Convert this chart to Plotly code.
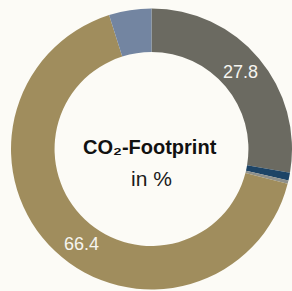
import plotly.graph_objects as go

categories = ["Segment A", "Segment B", "Segment C", "Segment D", "Segment E"]
values = [27.8, 0.9, 0.4, 66.4, 4.9]
colors = ["#6b6a61", "#1d4466", "#8e908b", "#a08d5d", "#7385a1"]
shown_labels = {0: "27.8", 3: "66.4"}
center_title = "CO₂-Footprint"
center_sub = "in %"

W, H = 292, 291
bg = "#fcfbf6"

fig = go.Figure(go.Pie(
    labels=categories,
    values=values,
    marker=dict(colors=colors, line=dict(width=0)),
    hole=0.69,
    sort=False,
    direction="clockwise",
    rotation=0,
    textinfo="none",
    hoverinfo="label+value",
    showlegend=False,
    domain=dict(x=[11 / W, 1.0], y=[0.0, 284 / H]),
))

label_pos = {0: (240, 72), 3: (81, 244)}
font_family = "Liberation Sans, Arial, sans-serif"
annotations = []
for i, txt in shown_labels.items():
    px, py = label_pos[i]
    annotations.append(dict(
        x=px / W, y=1 - py / H, xref="paper", yref="paper",
        xanchor="center", yanchor="middle",
        text=txt, showarrow=False,
        font=dict(family=font_family, size=18, color="#f6f5f0"),
    ))
annotations.append(dict(
    x=150 / W, y=1 - 147 / H, xref="paper", yref="paper",
    xanchor="center", yanchor="middle",
    text="<b>" + center_title + "</b>", showarrow=False,
    font=dict(family=font_family, size=20, color="#111111"),
))
annotations.append(dict(
    x=151 / W, y=1 - 178 / H, xref="paper", yref="paper",
    xanchor="center", yanchor="middle",
    text=center_sub, showarrow=False,
    font=dict(family=font_family, size=21, color="#1a1a1a"),
))

fig.update_layout(
    width=W, height=H,
    margin=dict(l=0, r=0, t=0, b=0),
    paper_bgcolor=bg, plot_bgcolor=bg,
    annotations=annotations,
)

fig.write_html(
    "out.html",
    config={"displayModeBar": False},
    post_script="document.body.style.margin='0';document.body.style.background='%s';" % bg,
)
